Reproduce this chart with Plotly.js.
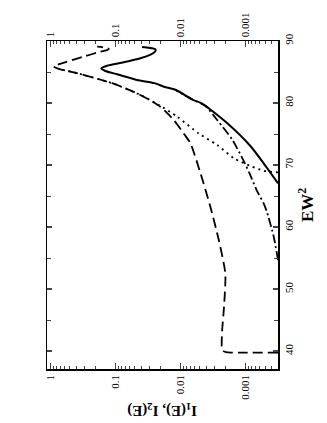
<!DOCTYPE html>
<html>
<head>
<meta charset="utf-8">
<script src="https://cdn.plot.ly/plotly-3.0.1.min.js"></script>
<style>
  body { margin: 0; padding: 0; background: #fff; }
  #myDiv { width: 327px; height: 423px; }
</style>
</head>
<body>
<div id="myDiv"></div>
<script>
// ---------------------------- curves (EW^2 , I) ----------------------------
var solidEW = [89.05, 88.9, 88.7, 88.45, 88.1, 87.85, 87.21, 86.56, 86.02, 85.6, 85.16, 84.63, 83.71, 83.2, 82.63, 82.1, 80.48, 79.95, 76.73, 73.06, 70.27, 67.05];
var solidI  = [0.0389, 0.0302, 0.0245, 0.024, 0.0257, 0.0282, 0.0412, 0.0745, 0.134, 0.164, 0.1425, 0.094, 0.0464, 0.0251, 0.0178, 0.01175, 0.0063, 0.00468, 0.0019, 0.00084, 0.000525, 0.000316];

var dashDotEW = [54.68, 58.4, 62.26, 63.8, 66.0, 68.7, 70.27, 74.03, 77.26, 79.52, 80.48, 81.3, 82.1];
var dashDotI  = [0.000316, 0.000367, 0.000463, 0.000525, 0.000676, 0.00087, 0.00102, 0.00158, 0.00272, 0.00412, 0.0063, 0.0087, 0.01175];

var dashEW = [39.73, 39.73, 39.75, 39.82, 40.0, 40.4, 41.0, 43.4, 47.0, 52.5, 57.9, 63.3, 68.65, 73.5, 75.1, 77.26, 79.4, 81.3, 83.2, 84.95, 85.5, 85.9, 86.2, 86.66, 87.47, 88.27, 88.55, 88.75, 88.95, 89.08];
var dashI  = [0.000316, 0.001, 0.00166, 0.002, 0.00221, 0.00229, 0.00232, 0.00228, 0.00214, 0.00204, 0.00257, 0.00347, 0.0049, 0.00701, 0.0089, 0.01268, 0.0203, 0.0412, 0.112, 0.4385, 0.741, 0.891, 0.759, 0.553, 0.308, 0.170, 0.132, 0.126, 0.148, 0.19];

var dotEW = [68.8, 69.08, 69.73, 71.1, 73.23, 75.1, 77.8, 79.68, 80.5, 81.3, 83.2, 84.95, 85.5];
var dotI  = [0.000316, 0.000525, 0.000794, 0.00151, 0.00272, 0.00525, 0.0112, 0.0214, 0.0295, 0.0412, 0.112, 0.4385, 0.741];

var logTicks = [1, 0.1, 0.01, 0.001];
var logTickText = ['1', '0.1', '0.01', '0.001'];
var ewTicks = [40, 50, 60, 70, 80, 90];

var serif = 'Liberation Serif, Times New Roman, serif';

function curve(xs, ys, dash, w) {
  return {
    x: xs, y: ys, type: 'scatter', mode: 'lines',
    line: {color: '#000', width: w, dash: dash, shape: 'spline', smoothing: 0.6},
    showlegend: false, hoverinfo: 'skip'
  };
}

var data = [
  curve(solidI, solidEW, 'solid', 2),
  curve(dashDotI, dashDotEW, '9px,3px,2px,3px', 1.8),
  curve(dashI, dashEW, '10px,5px', 1.8),
  curve(dotI, dotEW, '2px,4px', 1.8),
  {x: [], y: [], xaxis: 'x2', yaxis: 'y', type: 'scatter', showlegend: false}
];

var xCommon = {
  type: 'log',
  range: [0.05, -3.5],
  tickvals: logTicks,
  ticktext: logTickText,
  ticks: 'inside',
  ticklen: 6,
  tickwidth: 1.2,
  tickangle: -90,
  tickfont: {family: serif, size: 11, color: '#000'},
  minor: {ticks: 'inside', ticklen: 3, tickwidth: 1, dtick: 'D1', showgrid: false},
  showgrid: false,
  zeroline: false,
  linecolor: '#000',
  linewidth: 1.5,
  fixedrange: true
};

var layout = {
  width: 327,
  height: 423,
  margin: {l: 47, r: 49, t: 41, b: 54},
  paper_bgcolor: '#fff',
  plot_bgcolor: '#fff',
  xaxis: Object.assign({}, xCommon, {side: 'bottom', mirror: false}),
  xaxis2: Object.assign({}, xCommon, {side: 'top', overlaying: 'x', anchor: 'y'}),
  yaxis: {
    range: [37.1, 90],
    side: 'right',
    tickvals: ewTicks,
    ticks: 'inside',
    ticklen: 5,
    tickwidth: 1.2,
    tickangle: -90,
    tickfont: {family: serif, size: 11, color: '#000'},
    minor: {ticks: 'inside', ticklen: 4, tickwidth: 1, dtick: 5, showgrid: false},
    mirror: 'ticks',
    showgrid: false,
    zeroline: false,
    linecolor: '#000',
    linewidth: 1.5,
    fixedrange: true
  },
  annotations: [
    {
      text: '<b>EW<sup>2</sup></b>', xref: 'paper', yref: 'paper',
      x: 1.0, xshift: 28, xanchor: 'center', y: 0.5, showarrow: false, textangle: -90,
      font: {family: serif, size: 17, color: '#000'}
    },
    {
      text: '<b>I<sub>1</sub>(E), I<sub>2</sub>(E)</b>', xref: 'paper', yref: 'paper',
      x: 0.5, y: 0, yshift: -41, yanchor: 'middle', showarrow: false, textangle: 180,
      font: {family: serif, size: 15, color: '#000'}
    }
  ]
};

Plotly.newPlot('myDiv', data, layout, {staticPlot: true});
</script>
</body>
</html>
